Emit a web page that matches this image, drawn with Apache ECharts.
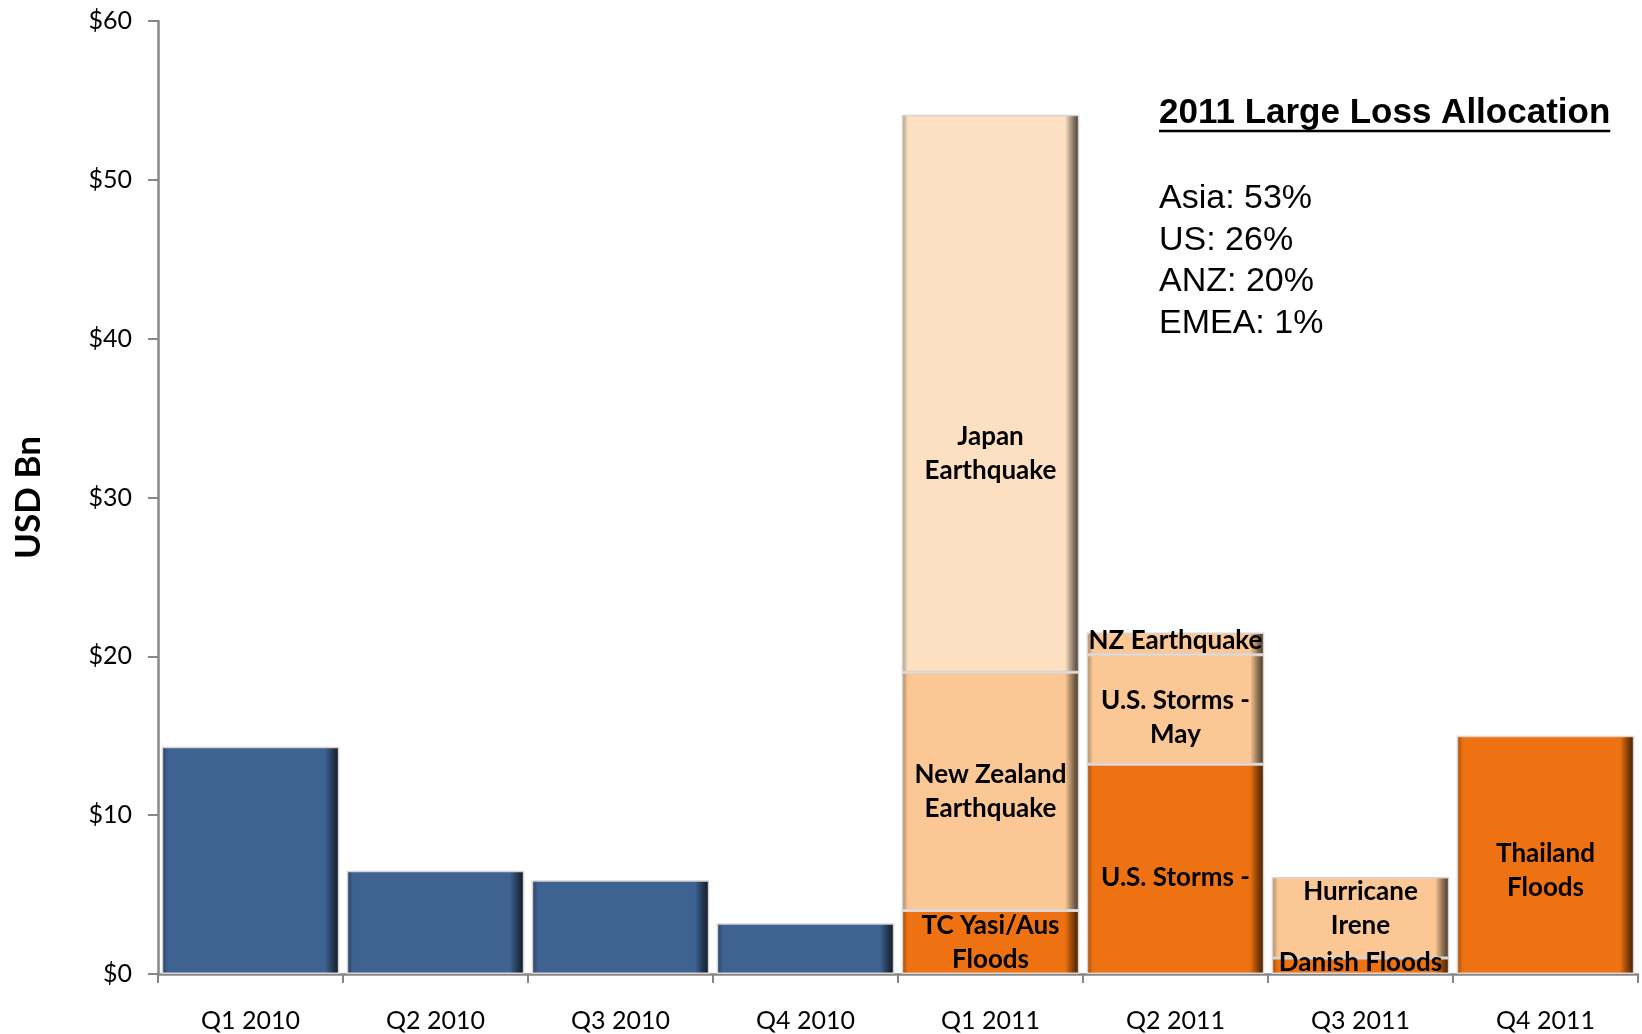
<!DOCTYPE html>
<html>
<head>
<meta charset="utf-8">
<script src="https://cdn.jsdelivr.net/npm/echarts@6/dist/echarts.min.js"></script>
<style>
  html, body { margin: 0; padding: 0; background: #fff; }
  #chart { width: 1642px; height: 1034px; }
</style>
</head>
<body>
<div id="chart"></div>
<script>
// quarters on the x axis
var categories = ['Q1 2010', 'Q2 2010', 'Q3 2010', 'Q4 2010', 'Q1 2011', 'Q2 2011', 'Q3 2011', 'Q4 2011'];

// 2010 totals (USD Bn)
var losses2010 = [14.3, 6.5, 5.9, 3.2, null, null, null, null];

// 2011 large losses, stacked bottom -> top
var bottomLoss = [null, null, null, null, 4.0, 13.2, 1.0, 15.0];
var bottomNames = ['', '', '', '', 'TC Yasi/Aus\nFloods', 'U.S. Storms -', 'Danish Floods', 'Thailand\nFloods'];

var middleLoss = [null, null, null, null, 15.0, 6.9, 5.1, null];
var middleNames = ['', '', '', '', 'New Zealand\nEarthquake', 'U.S. Storms -\nMay', 'Hurricane\nIrene', ''];

var topLoss = [null, null, null, null, 35.1, 1.4, null, null];
var topNames = ['', '', '', '', 'Japan\nEarthquake', 'NZ Earthquake', '', ''];

// text box
var allocTitle = '2011 Large Loss Allocation';
var allocation = [['Asia', 53], ['US', 26], ['ANZ', 20], ['EMEA', 1]];

// styling kept apart from the data
var BLUE = '#3e6291', DARK = '#ee7211', LIGHT = '#fbc794', PALE = '#fde0c1';
var topColors = [null, null, null, null, PALE, LIGHT, null, null];
var labelShift = { top: [0, 0, 0, 0, 60, -3, 0, 0], bottom: [0, 0, 0, 0, 0, 8, -3, 16], middle: [0, 0, 0, 0, 0, 8, -9, 0] };

function shade(hex, f) {
    var n = parseInt(hex.slice(1), 16);
    var r = (n >> 16) & 255, g = (n >> 8) & 255, b = n & 255;
    r = Math.round(r * (1 - f)); g = Math.round(g * (1 - f)); b = Math.round(b * (1 - f));
    return 'rgb(' + r + ',' + g + ',' + b + ')';
}

function bevel(c) {
    return new echarts.graphic.LinearGradient(0, 0, 1, 0, [
        {offset: 0, color: shade(c, 0.35)},
        {offset: 0.035, color: c},
        {offset: 0.92, color: c},
        {offset: 0.965, color: shade(c, 0.45)},
        {offset: 1, color: shade(c, 0.75)}
    ]);
}

var labelFont = {
    color: '#000',
    fontFamily: 'Lato',
    fontWeight: 'bold',
    fontSize: 26,
    lineHeight: 34
};

function layer(name, values, names, colorOf, shift) {
    return {
        name: name,
        type: 'bar',
        stack: 'loss',
        barCategoryGap: '4%',
        data: values.map(function (v, i) {
            if (v == null) return '-';
            var c = colorOf(i);
            return {
                value: v,
                itemStyle: { color: bevel(c), borderColor: '#d9d4cf', borderWidth: 1.5 },
                label: {
                    show: !!names[i],
                    position: 'inside',
                    formatter: names[i],
                    offset: [0, shift[i]]
                }
            };
        }),
        label: Object.assign({ overflow: 'none' }, labelFont)
    };
}

// width of the title, for its underline
var titleFont = 'bold 35px "Liberation Sans", Arial';
var ctx = document.createElement('canvas').getContext('2d');
ctx.font = titleFont;
var titleW = ctx.measureText(allocTitle).width;

var chart = echarts.init(document.getElementById('chart'));

var graphics = [
    {
        type: 'text', left: 1159, top: 96,
        style: { text: allocTitle, font: titleFont, fill: '#000' }
    },
    {
        type: 'line', shape: { x1: 1159, y1: 131, x2: 1159 + titleW, y2: 131 },
        style: { stroke: '#000', lineWidth: 2.5 }
    }
];
allocation.forEach(function (a, i) {
    graphics.push({
        type: 'text', left: 1159, top: 182 + i * 41.5,
        style: { text: a[0] + ': ' + a[1] + '%', font: '34px "Liberation Sans", Arial', fill: '#000' }
    });
});

chart.setOption({
    backgroundColor: '#fff',
    animation: false,
    grid: { left: 158, right: 4, top: 21, bottom: 60 },
    xAxis: {
        type: 'category',
        data: categories,
        axisLine: { lineStyle: { color: '#878787', width: 2.5 } },
        axisTick: { show: true, length: 9, lineStyle: { color: '#878787', width: 2 } },
        axisLabel: { color: '#000', fontFamily: 'Lato', fontSize: 25, margin: 34 }
    },
    yAxis: {
        type: 'value',
        min: 0, max: 60, interval: 10,
        name: 'USD Bn',
        nameLocation: 'middle',
        nameRotate: 90,
        nameGap: 112,
        nameTextStyle: { color: '#000', fontFamily: 'Lato', fontWeight: 'bold', fontSize: 35 },
        splitLine: { show: false },
        axisLine: { show: true, lineStyle: { color: '#878787', width: 2.5 } },
        axisTick: { show: true, length: 10, lineStyle: { color: '#878787', width: 2 } },
        axisLabel: {
            color: '#000', fontFamily: 'Lato', fontSize: 25, margin: 26,
            formatter: function (v) { return '$' + v; }
        }
    },
    series: [
        layer('2010', losses2010, ['', '', '', '', '', '', '', ''], function () { return BLUE; }, [0, 0, 0, 0, 0, 0, 0, 0]),
        layer('bottom', bottomLoss, bottomNames, function () { return DARK; }, labelShift.bottom),
        layer('middle', middleLoss, middleNames, function () { return LIGHT; }, labelShift.middle),
        layer('top', topLoss, topNames, function (i) { return topColors[i]; }, labelShift.top)
    ],
    graphic: graphics
});
</script>
</body>
</html>
